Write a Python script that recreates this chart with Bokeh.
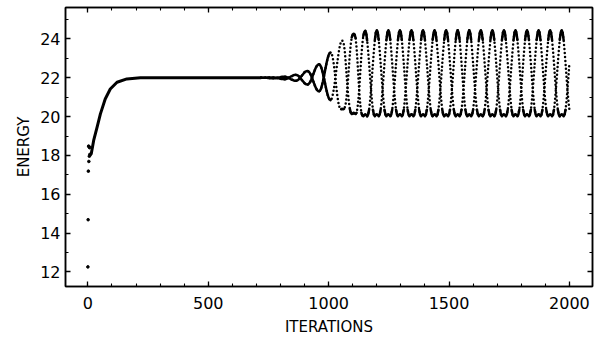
from bokeh.plotting import figure
from bokeh.models import (Range1d, LinearAxis, SingleIntervalTicker,
                          CustomJSTickFormatter, CustomLabelingPolicy)
from bokeh.embed import file_html
from bokeh.resources import INLINE

# ---------------- data ----------------
start_iter = [0, 1, 2, 3, 4, 5, 6, 7, 8]
start_energy = [12.26, 14.69, 17.19, 18.48, 17.69, 18.45, 17.96, 18.4, 18.05]

rise_iter = [8, 14, 24, 38, 52, 72, 93, 121, 162, 218, 300, 400, 500, 600, 700, 720]
rise_energy = [18.0, 18.09, 18.77, 19.45, 20.14, 20.91, 21.42, 21.77, 21.94, 22.0,
               22.0, 22.0, 22.0, 22.0, 22.0, 22.0]

# oscillating part: the even- and odd-iteration branches, read every 4 iterations
osc_iter = list(range(720, 2001, 4))

even_energy = [
    22.0, 22.0, 22.0, 22.0, 22.0, 22.0, 22.0, 22.01, 22.01, 22.02, 22.02, 22.02, 22.02,
    22.02, 22.01, 22.0, 22.0, 21.99, 21.98, 21.96, 21.95, 21.94, 21.94, 21.93, 21.93,
    21.93, 21.94, 21.96, 21.99, 22.01, 22.04, 22.07, 22.09, 22.12, 22.14, 22.15, 22.15,
    22.14, 22.12, 22.08, 22.03, 21.96, 21.9, 21.84, 21.78, 21.72, 21.68, 21.66, 21.65,
    21.67, 21.72, 21.8, 21.91, 22.04, 22.18, 22.31, 22.44, 22.55, 22.63, 22.68, 22.7,
    22.67, 22.58, 22.43, 22.24, 22.01, 21.78, 21.54, 21.31, 21.12, 20.97, 20.88, 20.85,
    20.9, 21.06, 21.3, 21.62, 21.99, 22.39, 22.79, 23.16, 23.48, 23.72, 23.88, 23.93,
    23.87, 23.68, 23.25, 22.6, 21.9, 21.25, 20.75, 20.4, 20.2, 20.13, 20.15, 20.2,
    20.15, 20.13, 20.2, 20.45, 20.95, 21.6, 22.4, 23.15, 23.75, 24.15, 24.36, 24.42,
    24.3, 23.92, 23.38, 22.74, 22.05, 21.4, 20.8, 20.35, 20.1, 20.02, 20.08, 20.12,
    20.08, 20.02, 20.1, 20.35, 20.8, 21.4, 22.05, 22.75, 23.4, 23.95, 24.33, 24.45, 24.33, 23.95, 23.4, 22.75, 22.05, 21.4, 20.8, 20.35, 20.1, 20.02, 20.08, 20.12,
    20.08, 20.02, 20.1, 20.35, 20.8, 21.4, 22.05, 22.75, 23.4, 23.95, 24.33, 24.45, 24.33, 23.95, 23.4, 22.75, 22.05, 21.4, 20.8, 20.35, 20.1, 20.02, 20.08, 20.12,
    20.08, 20.02, 20.1, 20.35, 20.8, 21.4, 22.05, 22.75, 23.4, 23.95, 24.33, 24.45, 24.33, 23.95, 23.4, 22.75, 22.05, 21.4, 20.8, 20.35, 20.1, 20.02, 20.08, 20.12,
    20.08, 20.02, 20.1, 20.35, 20.8, 21.4, 22.05, 22.75, 23.4, 23.95, 24.33, 24.45, 24.33, 23.95, 23.4, 22.75, 22.05, 21.4, 20.8, 20.35, 20.1, 20.02, 20.08, 20.12,
    20.08, 20.02, 20.1, 20.35, 20.8, 21.4, 22.05, 22.75, 23.4, 23.95, 24.33, 24.45, 24.33, 23.95, 23.4, 22.75, 22.05, 21.4, 20.8, 20.35, 20.1, 20.02, 20.08, 20.12,
    20.08, 20.02, 20.1, 20.35, 20.8, 21.4, 22.05, 22.75, 23.4, 23.95, 24.33, 24.45, 24.33, 23.95, 23.4, 22.75, 22.05, 21.4, 20.8, 20.35, 20.1, 20.02, 20.08, 20.12,
    20.08, 20.02, 20.1, 20.35, 20.8, 21.4, 22.05, 22.75, 23.4, 23.95, 24.33, 24.45, 24.33, 23.95, 23.4, 22.75, 22.05, 21.4, 20.8, 20.35, 20.1, 20.02, 20.08, 20.12,
    20.08, 20.02, 20.1, 20.35, 20.8, 21.4, 22.05, 22.75, 23.4, 23.95, 24.33, 24.45, 24.33, 23.95, 23.4, 22.75, 22.05, 21.4, 20.8, 20.35, 20.1, 20.02, 20.08, 20.12,
    20.08, 20.02, 20.1, 20.35, 20.8, 21.4, 22.05, 22.75,
]

odd_energy = [
    22.0, 22.0, 22.0, 22.0, 22.0, 22.0, 22.0, 21.99, 21.99, 21.98, 21.98, 21.97, 21.97,
    21.97, 21.97, 21.98, 21.99, 22.0, 22.01, 22.02, 22.03, 22.04, 22.05, 22.05, 22.05,
    22.05, 22.04, 22.02, 22.0, 21.98, 21.95, 21.92, 21.9, 21.88, 21.86, 21.85, 21.85,
    21.86, 21.88, 21.92, 21.97, 22.04, 22.1, 22.16, 22.22, 22.28, 22.32, 22.34, 22.35,
    22.33, 22.28, 22.2, 22.09, 21.96, 21.83, 21.69, 21.56, 21.45, 21.37, 21.32, 21.3,
    21.33, 21.43, 21.59, 21.8, 22.04, 22.3, 22.56, 22.8, 23.01, 23.17, 23.27, 23.3,
    23.25, 23.1, 22.82, 22.45, 21.98, 21.5, 21.08, 20.75, 20.52, 20.41, 20.38, 20.4,
    20.38, 20.4, 20.5, 20.75, 21.2, 21.8, 22.5, 23.2, 23.75, 24.08, 24.23, 24.27,
    24.22, 24.05, 23.55, 22.8, 21.95, 21.15, 20.55, 20.2, 20.05, 20.02, 20.08, 20.12,
    20.08, 20.02, 20.1, 20.35, 20.8, 21.4, 22.05, 22.75, 23.4, 23.95, 24.33, 24.45,
    24.33, 23.95, 23.4, 22.75, 22.05, 21.4, 20.8, 20.35, 20.1, 20.02, 20.08, 20.12, 20.08, 20.02, 20.1, 20.35, 20.8, 21.4, 22.05, 22.75, 23.4, 23.95, 24.33, 24.45,
    24.33, 23.95, 23.4, 22.75, 22.05, 21.4, 20.8, 20.35, 20.1, 20.02, 20.08, 20.12, 20.08, 20.02, 20.1, 20.35, 20.8, 21.4, 22.05, 22.75, 23.4, 23.95, 24.33, 24.45,
    24.33, 23.95, 23.4, 22.75, 22.05, 21.4, 20.8, 20.35, 20.1, 20.02, 20.08, 20.12, 20.08, 20.02, 20.1, 20.35, 20.8, 21.4, 22.05, 22.75, 23.4, 23.95, 24.33, 24.45,
    24.33, 23.95, 23.4, 22.75, 22.05, 21.4, 20.8, 20.35, 20.1, 20.02, 20.08, 20.12, 20.08, 20.02, 20.1, 20.35, 20.8, 21.4, 22.05, 22.75, 23.4, 23.95, 24.33, 24.45,
    24.33, 23.95, 23.4, 22.75, 22.05, 21.4, 20.8, 20.35, 20.1, 20.02, 20.08, 20.12, 20.08, 20.02, 20.1, 20.35, 20.8, 21.4, 22.05, 22.75, 23.4, 23.95, 24.33, 24.45,
    24.33, 23.95, 23.4, 22.75, 22.05, 21.4, 20.8, 20.35, 20.1, 20.02, 20.08, 20.12, 20.08, 20.02, 20.1, 20.35, 20.8, 21.4, 22.05, 22.75, 23.4, 23.95, 24.33, 24.45,
    24.33, 23.95, 23.4, 22.75, 22.05, 21.4, 20.8, 20.35, 20.1, 20.02, 20.08, 20.12, 20.08, 20.02, 20.1, 20.35, 20.8, 21.4, 22.05, 22.75, 23.4, 23.95, 24.33, 24.45,
    24.33, 23.95, 23.4, 22.75, 22.05, 21.4, 20.8, 20.35, 20.1, 20.02, 20.08, 20.12, 20.08, 20.02, 20.1, 20.35, 20.8, 21.4, 22.05, 22.75, 23.4, 23.95, 24.33, 24.45,
    24.33, 23.95, 23.4, 22.75, 22.05, 21.4, 20.8, 20.35,
]

x_label = "ITERATIONS"
y_label = "ENERGY"

# ---------------- figure ----------------
FONT = "DejaVu Sans"
p = figure(width=600, height=343, output_backend="svg", toolbar_location=None,
           x_range=Range1d(-93, 2096), y_range=Range1d(11.25, 25.62),
           min_border_left=65, min_border_right=8, min_border_top=7, min_border_bottom=57)
p.grid.visible = False
p.outline_line_color = "black"
p.outline_line_width = 1.5
p.background_fill_color = "white"
p.border_fill_color = "white"

xt = SingleIntervalTicker(interval=500, num_minor_ticks=5)
yt = SingleIntervalTicker(interval=2, num_minor_ticks=2)
p.xaxis.ticker = xt
p.yaxis.ticker = yt

def style_axis(ax):
    ax.axis_line_color = "black"
    ax.axis_line_width = 1.5
    ax.major_tick_in = 5
    ax.major_tick_out = 0
    ax.minor_tick_in = 3
    ax.minor_tick_out = 0
    ax.major_tick_line_color = "black"
    ax.minor_tick_line_color = "black"
    ax.major_tick_line_width = 1.3
    ax.minor_tick_line_width = 1.1
    ax.major_label_text_font = FONT
    ax.major_label_text_font_size = "16px"
    ax.major_label_text_color = "black"
    ax.axis_label_text_font = FONT
    ax.axis_label_text_font_size = "15px"
    ax.axis_label_text_font_style = "normal"
    ax.axis_label_text_color = "black"

style_axis(p.xaxis[0])
style_axis(p.yaxis[0])
p.xaxis.axis_label = x_label
p.yaxis.axis_label = y_label
p.xaxis.major_label_standoff = 10
p.xaxis.axis_label_standoff = 6
p.yaxis.major_label_standoff = 5
p.yaxis.axis_label_standoff = 4

# mirrored tick marks on top and right (no labels)
blank = CustomJSTickFormatter(code="return ''")
hide_all = CustomLabelingPolicy(code="return []")
top_ax = LinearAxis(ticker=xt, formatter=blank)
right_ax = LinearAxis(ticker=yt, formatter=blank)
for ax in (top_ax, right_ax):
    style_axis(ax)
    ax.major_label_standoff = 0
    ax.major_label_text_font_size = "1px"
    ax.major_label_policy = hide_all
p.add_layout(top_ax, "above")
p.add_layout(right_ax, "right")

# ---------------- marks ----------------
p.scatter(start_iter, start_energy, size=2.6, color="black")
p.line(rise_iter, rise_energy, line_width=3, color="black")

nan = float("nan")
for ys in (even_energy, odd_energy):
    p.line(osc_iter, ys, line_width=2.5, color="black", line_dash="0 4", line_cap="round")
    solid = [e if (i <= 1008 or e >= 23.9 or e <= 20.4) else nan for i, e in zip(osc_iter, ys)]
    p.line(osc_iter, solid, line_width=2.5, color="black", line_cap="round", line_join="round")

open("out.html", "w").write(file_html(p, INLINE))
